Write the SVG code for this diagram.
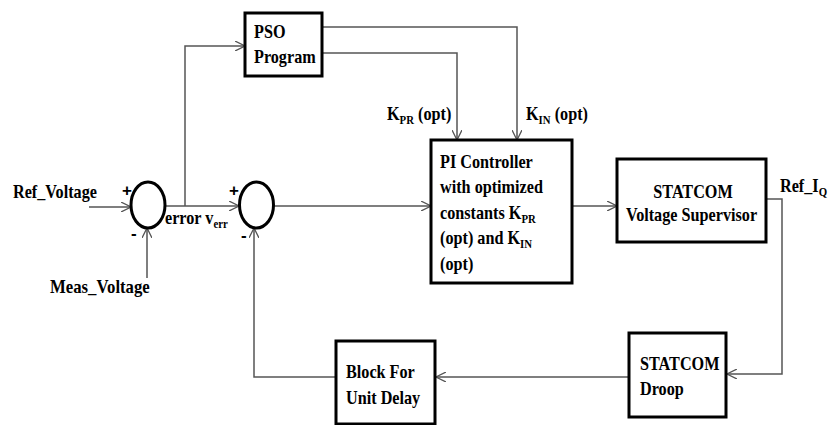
<svg xmlns="http://www.w3.org/2000/svg" width="829" height="425" viewBox="0 0 829 425">
<style>
text{font-family:"Liberation Serif","Times New Roman",serif;font-weight:bold;font-size:18px;fill:#000}
text.sign{font-family:"Liberation Sans",Arial,sans-serif;font-size:17px}
.sub{font-size:12px}
.box{fill:#fff;stroke:#000;stroke-width:3}
.sum{fill:#fff;stroke:#000;stroke-width:3}
.ln{fill:none;stroke:#555;stroke-width:1.5}
</style>
<defs>
<marker id="arr" viewBox="0 0 10 10" refX="10" refY="5" markerWidth="10" markerHeight="10" markerUnits="userSpaceOnUse" orient="auto">
<path d="M0,0 L10,5 L0,10" fill="none" stroke="#555" stroke-width="1.3"/>
</marker>
</defs>
<rect width="829" height="425" fill="#fff"/>
<g id="connectors">
<path class="ln" d="M89,207 H131" marker-end="url(#arr)"/>
<path class="ln" d="M147,278 V228" marker-end="url(#arr)"/>
<path class="ln" d="M165,206 H239" marker-end="url(#arr)"/>
<path class="ln" d="M185,206 V46 H245" marker-end="url(#arr)"/>
<path class="ln" d="M322,27 H517 V140" marker-end="url(#arr)"/>
<path class="ln" d="M322,53 H457 V140" marker-end="url(#arr)"/>
<path class="ln" d="M274,206 H431" marker-end="url(#arr)"/>
<path class="ln" d="M572,206 H617" marker-end="url(#arr)"/>
<path class="ln" d="M766,199 H782 V374 H727" marker-end="url(#arr)"/>
<path class="ln" d="M629,377 H436" marker-end="url(#arr)"/>
<path class="ln" d="M336,377 H254 V228" marker-end="url(#arr)"/>
</g>
<g id="labels">
<text transform="translate(13,198) scale(0.9,1)">Ref_Voltage</text>
<text transform="translate(50,293) scale(0.93,1)">Meas_Voltage</text>
<text class="sign" x="122" y="196">+</text>
<text class="sign" x="131" y="239">-</text>
<text class="sign" x="229" y="196">+</text>
<text class="sign" x="241" y="241">-</text>
<text transform="translate(165,224) scale(0.9,1)">error v<tspan class="sub" dy="4">err</tspan></text>
<text transform="translate(387,120) scale(0.9,1)">K<tspan class="sub" dy="4">PR</tspan><tspan dy="-4"> (opt)</tspan></text>
<text transform="translate(526,120) scale(0.9,1)">K<tspan class="sub" dy="4">IN</tspan><tspan dy="-4"> (opt)</tspan></text>
<text transform="translate(780,192) scale(0.9,1)">Ref_I<tspan class="sub" dy="4">Q</tspan></text>
</g>
<g id="sum1"><ellipse class="sum" cx="148" cy="205" rx="17" ry="23"/></g>
<g id="sum2"><ellipse class="sum" cx="256.5" cy="205" rx="17" ry="23"/></g>
<g id="pso">
<rect class="box" x="245" y="13" width="77" height="63"/>
<text transform="translate(254,38) scale(0.9,1)">PSO</text>
<text transform="translate(254,63) scale(0.9,1)">Program</text>
</g>
<g id="pi">
<rect class="box" x="431" y="140" width="141" height="143"/>
<text transform="translate(440,168) scale(0.9,1)">PI Controller</text>
<text transform="translate(440,193) scale(0.9,1)">with optimized</text>
<text transform="translate(440,219) scale(0.9,1)">constants K<tspan class="sub" dy="4">PR</tspan></text>
<text transform="translate(440,244) scale(0.9,1)">(opt) and K<tspan class="sub" dy="4">IN</tspan></text>
<text transform="translate(440,270) scale(0.9,1)">(opt)</text>
</g>
<g id="supervisor">
<rect class="box" x="617" y="159" width="149" height="83"/>
<text transform="translate(693,198) scale(0.9,1)" text-anchor="middle">STATCOM</text>
<text transform="translate(691.5,221) scale(0.9,1)" text-anchor="middle">Voltage Supervisor</text>
</g>
<g id="droop">
<rect class="box" x="629" y="333" width="97" height="84"/>
<text transform="translate(640,370) scale(0.9,1)">STATCOM</text>
<text transform="translate(640,395) scale(0.9,1)">Droop</text>
</g>
<g id="delay">
<rect class="box" x="336" y="341" width="99" height="83"/>
<text transform="translate(346,378) scale(0.9,1)">Block For</text>
<text transform="translate(346,404) scale(0.9,1)">Unit  Delay</text>
</g>
</svg>
